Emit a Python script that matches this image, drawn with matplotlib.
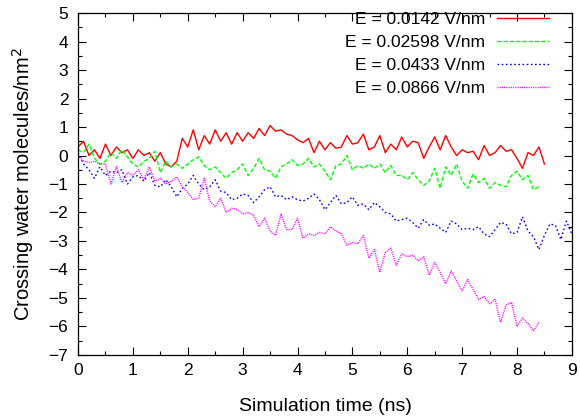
import numpy as np
import matplotlib
matplotlib.use("Agg")
import matplotlib.pyplot as plt
from matplotlib.ticker import MultipleLocator

plt.rcParams['font.family'] = ['Liberation Sans', 'DejaVu Sans']

dt = 0.1  # ns between samples

# E = 0.0142 V/nm
red = [0.3, 0.5, 0.0, 0.2, -0.1, 0.4, 0.0, 0.3, 0.1, 0.2,
       -0.1, 0.2, 0.0, 0.1, -0.2, 0.1, -0.3, -0.4, -0.2, 0.6,
       0.3, 0.9, 0.2, 0.7, 0.4, 0.9, 0.5, 0.8, 0.4, 0.8,
       0.5, 0.8, 0.6, 0.95, 0.7, 1.05, 0.85, 0.9, 0.75, 0.7,
       0.55, 0.45, 0.6, 0.1, 0.5, 0.2, 0.45, 0.25, 0.3, 0.7,
       0.4, 0.45, 0.75, 0.2, 0.3, 0.7, 0.1, 0.4, 0.2, 0.65,
       0.3, 0.5, 0.45, -0.1, 0.3, 0.65, 0.2, 0.7, 0.3, 0.0,
       0.2, 0.1, 0.15, -0.15, 0.35, 0.0, 0.1, 0.35, 0.15, 0.2,
       -0.1, -0.45, 0.1, 0.0, 0.3, -0.3]

# E = 0.02598 V/nm
green = [0.2, 0.1, 0.4, -0.1, -0.3, -0.2, 0.1, -0.1, 0.2, -0.05,
         -0.3, -0.4, -0.2, -0.1, 0.15, -0.6, -0.2, -0.4, -0.3, -0.45,
         -0.3, -0.15, -0.05, -0.35, -0.5, -0.4, -0.6, -0.8, -0.6, -0.5,
         -0.3, -0.7, -0.45, -0.1, -0.5, -0.55, -0.8, -0.4, -0.3, -0.15,
         -0.35, -0.3, -0.1, -0.4, -0.3, -0.55, -0.85, -0.35, -0.3, 0.0,
         -0.5, -0.35, -0.45, -0.3, -0.45, -0.3, -0.6, -0.35, -0.7, -0.7,
         -0.85, -0.6, -0.85, -1.05, -0.9, -0.45, -1.15, -0.4, -0.7, -0.3,
         -0.9, -1.15, -0.65, -0.95, -0.8, -1.15, -0.95, -1.05, -1.1, -0.7,
         -0.55, -0.85, -0.7, -1.2, -1.1]

# E = 0.0433 V/nm
blue = [0.1, -0.3, -0.5, -0.8, -0.4, -0.7, -0.55, -0.6, -0.5, -1.0,
        -0.75, -0.7, -0.9, -0.6, -1.05, -1.1, -0.85, -1.1, -1.45, -1.15,
        -1.0, -0.7, -1.0, -1.2, -1.1, -0.85, -1.25, -1.3, -1.55, -1.5,
        -1.35, -1.4, -1.65, -1.45, -1.2, -1.1, -1.45, -1.4, -1.55, -1.45,
        -1.55, -1.6, -1.5, -1.35, -1.55, -1.9, -1.65, -1.4, -1.7, -1.65,
        -1.45, -1.75, -1.7, -1.9, -1.65, -1.8, -2.0, -2.05, -2.3, -2.25,
        -2.2, -2.35, -2.55, -2.25, -2.45, -2.4, -2.55, -2.7, -2.3, -2.4,
        -2.6, -2.55, -2.6, -2.5, -2.75, -2.85, -2.6, -2.35, -2.4, -2.75,
        -2.7, -2.15, -2.65, -2.85, -3.3, -2.8, -2.4, -2.45, -2.95, -2.3,
        -2.75]

# E = 0.0866 V/nm
magenta = [0.0, -0.2, -0.25, -0.2, -0.3, -0.3, -1.0, -0.4, -0.95, -0.6,
           -0.7, -0.5, -0.85, -0.4, -0.9, -0.8, -1.0, -0.9, -0.75, -1.1,
           -1.3, -1.55, -1.5, -0.8, -1.6, -1.8, -1.5, -2.0, -1.85, -1.9,
           -2.05, -2.0, -2.1, -2.5, -2.2, -2.65, -2.8, -2.05, -2.6, -2.6,
           -2.2, -2.9, -2.75, -2.8, -2.7, -2.75, -2.5, -2.65, -2.75, -3.15,
           -3.05, -3.1, -2.8, -3.6, -3.3, -4.1, -3.4, -3.25, -3.85, -3.45,
           -3.55, -3.5, -3.7, -3.55, -4.2, -3.75, -4.1, -4.5, -4.05, -4.4,
           -4.75, -4.35, -4.7, -5.05, -4.95, -5.2, -5.05, -5.85, -5.25, -5.15,
           -6.0, -5.7, -5.9, -6.15, -5.85]

labels = ['E = 0.0142 V/nm', 'E = 0.02598 V/nm', 'E = 0.0433 V/nm', 'E = 0.0866 V/nm']

fig = plt.figure(figsize=(5.8, 4.17), dpi=100)
ax = fig.add_axes([0.1345, 0.1487, 0.8515, 0.8201])

ax.plot(np.arange(len(red)) * dt, red, color='#ff0000', lw=1.0, label=labels[0])
ax.plot(np.arange(len(green)) * dt, green, color='#00ff00', lw=1.0,
        linestyle=(0, (3, 1.5)), label=labels[1])
ax.plot(np.arange(len(blue)) * dt, blue, color='#0000ff', lw=1.0,
        linestyle=(0, (1.2, 1.8)), label=labels[2])
ax.plot(np.arange(len(magenta)) * dt, magenta, color='#ff00ff', lw=1.0,
        linestyle=(0, (0.8, 0.8)), label=labels[3])

ax.set_xlim(0, 9)
ax.set_ylim(-7, 5)
ax.xaxis.set_major_locator(MultipleLocator(1))
ax.xaxis.set_minor_locator(MultipleLocator(0.5))
ax.yaxis.set_major_locator(MultipleLocator(1))
ax.yaxis.set_minor_locator(MultipleLocator(0.5))
ax.tick_params(which='both', direction='in', top=True, right=True, labelsize=12.5, width=0.8)
ax.tick_params(which='major', length=6)
ax.tick_params(which='minor', length=3)
ax.tick_params(axis='y', which='major', pad=7)
ax.tick_params(axis='x', which='major', pad=6)
for s in ax.spines.values():
    s.set_linewidth(0.9)

ax.set_xlabel('Simulation time (ns)', fontsize=14, labelpad=14)
ax.set_ylabel('Crossing water molecules/nm$^2$', fontsize=14.5, labelpad=9)

leg = ax.legend(loc='upper right', markerfirst=False, frameon=False, fontsize=12.5,
                handlelength=3.0, handletextpad=0.65, labelspacing=0.45,
                borderaxespad=0.0, bbox_to_anchor=(0.967, 1.023))

fig.savefig('out.png', dpi=100)
